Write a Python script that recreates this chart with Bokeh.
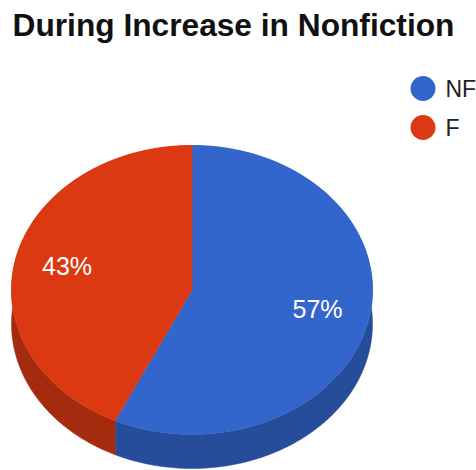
import numpy as np
from bokeh.plotting import figure
from bokeh.embed import file_html
from bokeh.resources import INLINE
from bokeh.core.properties import value

title_text = "During Increase in Nonfiction"
categories = ["NF", "F"]
values = [57, 43]
labels = ["57%", "43%"]
colors = ["#3366CC", "#DC3912"]
side_colors = ["#264D99", "#A52B0E"]

W, H = 476, 470
p = figure(width=W, height=H, x_range=(0, W), y_range=(H, 0),
           output_backend="svg", toolbar_location=None, min_border=0,
           x_axis_type=None, y_axis_type=None)
p.outline_line_color = None
p.grid.visible = False
p.background_fill_color = "white"
p.border_fill_color = "white"

cx, cy, rx, ry, depth = 191.5, 289.5, 180.5, 144.5, 34

fracs = np.array(values, dtype=float) / sum(values)
ends = np.cumsum(fracs) * 2 * np.pi
starts = ends - fracs * 2 * np.pi

def arc(a0, a1):
    t = np.linspace(a0, a1, 240)
    return cx + rx * np.sin(t), cy - ry * np.cos(t)

for a0, a1, c in zip(starts, ends, side_colors):
    x, y = arc(a0, a1)
    p.patch(list(x) + list(x[::-1]), list(y) + list(y[::-1] + depth),
            fill_color=c, line_color=c, line_width=0.5)
for a0, a1, c in zip(starts, ends, colors):
    x, y = arc(a0, a1)
    p.patch([cx] + list(x), [cy] + list(y), fill_color=c, line_color=c, line_width=0.5)

# slice labels
for lab, (lx, ly) in zip(labels, [(317, 308.5), (66.5, 265.5)]):
    p.text([lx], [ly], text=[lab], text_color="white", text_font=value("Liberation Sans"),
           text_font_size="25px", text_align="center", text_baseline="middle")

# legend
for cat, c, ly in zip(categories, colors, [88, 127]):
    p.scatter([422.5], [ly], marker="circle", size=25, fill_color=c, line_color=None)
    p.text([445], [ly], text=[cat], text_color="#222222", text_font=value("Liberation Sans"),
           text_font_size="23px", text_align="left", text_baseline="middle")

# title
p.text([12], [24], text=[title_text], text_color="#111111", text_font=value("Liberation Sans"),
       text_font_size="31.7px", text_font_style="bold", text_align="left", text_baseline="middle")

open("out.html", "w").write(file_html(p, INLINE))
